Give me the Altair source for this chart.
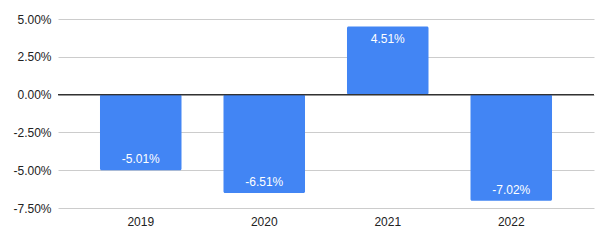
import altair as alt
import pandas as pd

years = ["2019", "2020", "2021", "2022"]
values = [-0.0501, -0.0651, 0.0451, -0.0702]
y_ticks = [-0.075, -0.05, -0.025, 0.0, 0.025, 0.05]

df = pd.DataFrame({"year": years, "value": values})

FONT = "Liberation Sans"
BLUE = "#4285F4"
YDOM = [-0.075, 0.05]

x = alt.X("year:N", title=None, sort=years,
          scale=alt.Scale(paddingInner=0.34, paddingOuter=0.34),
          axis=alt.Axis(labelAngle=0, ticks=False, domain=False, grid=False,
                        labelPadding=8, labelFontSize=12, labelColor="#222222",
                        labelFont=FONT))
y = alt.Y("value:Q", title=None,
          scale=alt.Scale(domain=YDOM, nice=False, zero=False),
          axis=alt.Axis(values=y_ticks, tickCount=20, ticks=False, domain=False,
                        labelExpr="replace(format(datum.value, '.2%'), '\u2212', '-')",
                        labelOverlap=False, labelBound=False, labelFlush=False,
                        gridColor="#cccccc", gridWidth=1, labelPadding=7,
                        labelFontSize=12, labelColor="#222222", labelFont=FONT))

bars = alt.Chart(df).mark_bar(color=BLUE, cornerRadius=1.5).encode(
    x=x, y=y, y2=alt.datum(0)
)

zero = alt.Chart(df).mark_rule(color="#333333", strokeWidth=1).encode(
    y=alt.datum(0),
)

base_text = alt.Chart(df).transform_calculate(
    label="replace(format(datum.value, '.2%'), '\u2212', '-')"
)

neg_text = base_text.transform_filter("datum.value < 0").mark_text(
    color="white", fontSize=12, font=FONT, dy=-11, baseline="middle"
).encode(x=alt.X("year:N", sort=years), y=alt.Y("value:Q"),
         text="label:N")

pos_text = base_text.transform_filter("datum.value >= 0").mark_text(
    color="white", fontSize=12, font=FONT, dy=13, baseline="middle"
).encode(x=alt.X("year:N", sort=years), y=alt.Y("value:Q"),
         text="label:N")

chart = alt.layer(bars, zero, neg_text, pos_text).properties(
    width=536, height=189,
    autosize=alt.AutoSizeParams(type="none"),
    padding={"left": 58, "top": 19, "right": 13, "bottom": 33},
    background="white",
).configure_view(stroke=None)

chart.save("out.html", embed_options={"renderer": "svg", "actions": False})
